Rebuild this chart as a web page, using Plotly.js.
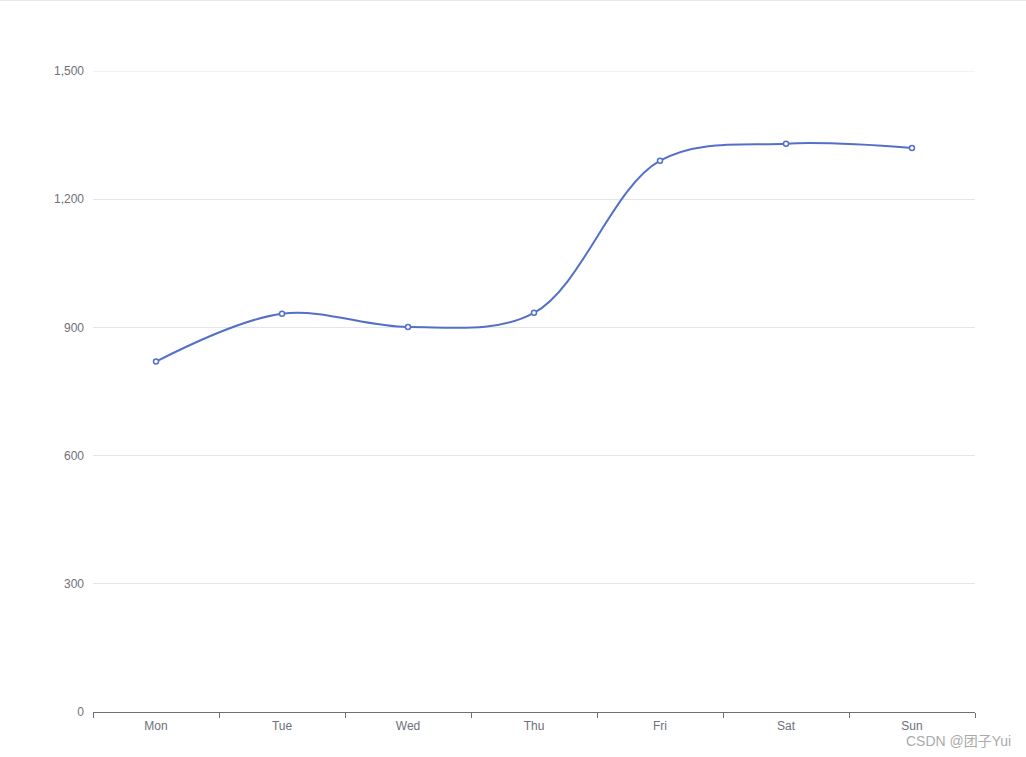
<!DOCTYPE html>
<html>
<head>
<meta charset="utf-8">
<script src="https://cdn.plot.ly/plotly-3.0.1.min.js"></script>
<style>
html,body{margin:0;padding:0;background:#fff;}
#chart{width:1026px;height:756px;border-top:1px solid #e6e6e6;}
</style>
</head>
<body>
<div id="chart"></div>
<script>
const categories = ['Mon', 'Tue', 'Wed', 'Thu', 'Fri', 'Sat', 'Sun'];
const values = [820, 932, 901, 934, 1290, 1330, 1320];
const yTicks = [0, 300, 600, 900, 1200, 1500];
const watermark = 'CSDN @团子Yui';

const trace = {
  x: categories,
  y: values,
  type: 'scatter',
  mode: 'lines+markers',
  line: {color: '#5470c6', width: 2, shape: 'spline', smoothing: 1},
  marker: {size: 5, color: '#fff', line: {color: '#5470c6', width: 1.5}},
  hoverinfo: 'x+y',
  cliponaxis: false
};

const yMax = yTicks[yTicks.length - 1];

const layout = {
  width: 1026,
  height: 756,
  margin: {l: 93, r: 51, t: 70, b: 45},
  paper_bgcolor: '#fff',
  plot_bgcolor: '#fff',
  showlegend: false,
  font: {family: 'Liberation Sans, Arial, sans-serif', size: 12, color: '#6E7079'},
  xaxis: {
    type: 'category',
    range: [-0.5, 6.5],
    showgrid: false,
    showline: true,
    linecolor: '#6E7079',
    linewidth: 1,
    ticks: 'outside',
    tickson: 'boundaries',
    ticklen: 5,
    tickcolor: '#6E7079',
    ticklabelstandoff: 3,
    tickfont: {size: 12, color: '#6E7079'},
    zeroline: false,
    fixedrange: true
  },
  yaxis: {
    range: [0, yMax],
    tickvals: yTicks,
    tickformat: ',d',
    showgrid: true,
    gridcolor: '#E0E6F1',
    gridwidth: 1,
    showline: false,
    zeroline: false,
    ticks: '',
    ticklabelstandoff: 8,
    tickfont: {size: 12, color: '#6E7079'},
    fixedrange: true
  },
  shapes: [{
    type: 'line', xref: 'paper', yref: 'y',
    x0: 0, x1: 1, y0: yMax, y1: yMax,
    line: {color: '#E0E6F1', width: 1},
    layer: 'below'
  }],
  annotations: [{
    text: watermark,
    xref: 'paper', yref: 'paper',
    x: 1, y: 0,
    xanchor: 'right', yanchor: 'top',
    xshift: 38, yshift: -19,
    showarrow: false,
    font: {size: 14, color: '#aaaaaa', family: 'Liberation Sans, Noto Sans CJK SC, sans-serif'}
  }]
};

Plotly.newPlot('chart', [trace], layout, {displayModeBar: false, staticPlot: true});
</script>
</body>
</html>
